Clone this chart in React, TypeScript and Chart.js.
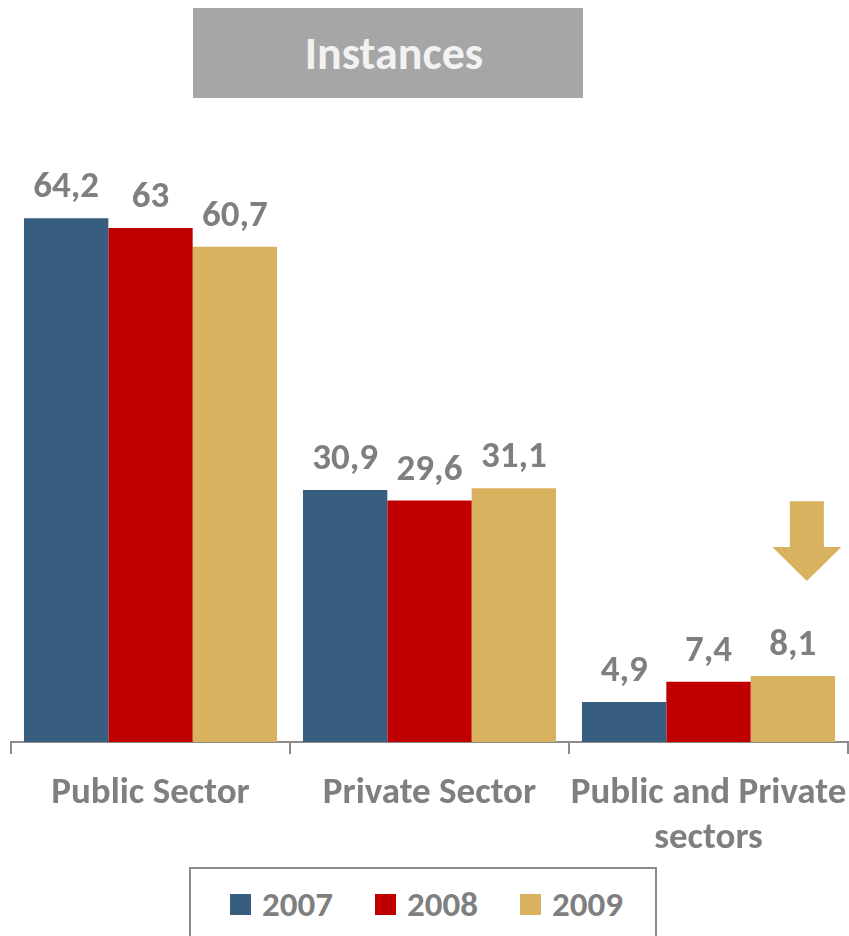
import React, { useEffect, useRef } from "react";
import { Chart, registerables } from "chart.js";

Chart.register(...registerables);

// ---- data ----
const categories: (string | string[])[] = [
  "Public Sector",
  "Private Sector",
  ["Public and Private", "sectors"],
];
const years = ["2007", "2008", "2009"];
const values2007 = [64.2, 30.9, 4.9];
const values2008 = [63, 29.6, 7.4];
const values2009 = [60.7, 31.1, 8.1];
const seriesColors = ["#375E7F", "#C00000", "#D9B25F"];
const titleText = "Instances";
const yMin = 0;
const yMax = 70;
// arrow annotation (value range on the y axis, above the 2009 bar of the last category)
const arrowTopValue = 29.5;
const arrowNeckValue = 23.9;
const arrowTipValue = 19.75;

const FONT = "Carlito, Lato, sans-serif";
const GRAY = "#7F7F7F";
const AXIS = "#8C8C8C";

const fmt = (v: number) => String(v).replace(".", ",");

const valueLabels = {
  id: "valueLabels",
  afterDatasetsDraw(chart: any) {
    const ctx = chart.ctx;
    ctx.save();
    ctx.font = `bold 37px ${FONT}`;
    ctx.fillStyle = GRAY;
    ctx.textAlign = "center";
    ctx.textBaseline = "alphabetic";
    chart.data.datasets.forEach((ds: any, di: number) => {
      const meta = chart.getDatasetMeta(di);
      meta.data.forEach((bar: any, i: number) => {
        ctx.fillText(fmt(ds.data[i]), bar.x, bar.y - 21);
      });
    });
    ctx.restore();
  },
};

const arrowPlugin = {
  id: "arrowPlugin",
  afterDatasetsDraw(chart: any) {
    const meta = chart.getDatasetMeta(2);
    const bar = meta.data[2];
    if (!bar) return;
    const y = chart.scales.y;
    const cx = bar.x + 14;
    const top = y.getPixelForValue(arrowTopValue);
    const neck = y.getPixelForValue(arrowNeckValue);
    const tip = y.getPixelForValue(arrowTipValue);
    const shaft = 17;
    const head = 34.5;
    const ctx = chart.ctx;
    ctx.save();
    ctx.fillStyle = seriesColors[2];
    ctx.beginPath();
    ctx.moveTo(cx - shaft, top);
    ctx.lineTo(cx + shaft, top);
    ctx.lineTo(cx + shaft, neck);
    ctx.lineTo(cx + head, neck);
    ctx.lineTo(cx, tip);
    ctx.lineTo(cx - head, neck);
    ctx.lineTo(cx - shaft, neck);
    ctx.closePath();
    ctx.fill();
    ctx.restore();
  },
};

export default function App() {
  const canvasRef = useRef<HTMLCanvasElement | null>(null);

  useEffect(() => {
    if (!canvasRef.current) return;
    const seriesValues = [values2007, values2008, values2009];
    const chart = new Chart(canvasRef.current, {
      type: "bar",
      data: {
        labels: categories,
        datasets: years.map((yr, i) => ({
          label: yr,
          data: seriesValues[i],
          backgroundColor: seriesColors[i],
          borderWidth: 0,
          categoryPercentage: 0.907,
          barPercentage: 1,
        })),
      },
      options: {
        responsive: false,
        animation: false,
        devicePixelRatio: 1,
        layout: { padding: { top: 171, left: 11, right: 1, bottom: 0 } },
        plugins: {
          legend: { display: false },
          title: { display: false },
          tooltip: { enabled: false },
        },
        scales: {
          x: {
            afterFit: (scale: any) => {
              scale.height = 936 - 742;
              scale.paddingLeft = 0;
              scale.paddingRight = 0;
            },
            grid: {
              display: true,
              drawOnChartArea: false,
              drawTicks: true,
              tickLength: 12,
              offset: true,
              color: AXIS,
              lineWidth: 2,
            },
            border: { display: true, color: AXIS, width: 2 },
            ticks: {
              color: GRAY,
              padding: 17,
              autoSkip: false,
              maxRotation: 0,
              minRotation: 0,
              font: { family: FONT, size: 37, weight: "bold", lineHeight: 1.22 },
            },
          },
          y: {
            display: false,
            min: yMin,
            max: yMax,
          },
        },
      },
      plugins: [valueLabels, arrowPlugin],
    } as any);
    return () => chart.destroy();
  }, []);

  return (
    <div style={{ position: "absolute", left: 0, top: 0, width: 849, height: 936, overflow: "hidden", background: "#fff" }}>
      <canvas ref={canvasRef} width={849} height={936} style={{ position: "absolute", left: 0, top: 0 }} />
      <div
        style={{
          position: "absolute",
          left: 193,
          top: 8,
          width: 390,
          height: 90,
          boxSizing: "border-box",
          paddingLeft: 12,
          background: "#A6A6A6",
          color: "#F2F2F2",
          fontFamily: FONT,
          fontWeight: "bold",
          fontSize: 46,
          lineHeight: "90px",
          textAlign: "center",
        }}
      >
        {titleText}
      </div>
      <div
        style={{
          position: "absolute",
          left: 189,
          top: 867,
          width: 468,
          height: 100,
          boxSizing: "border-box",
          border: `2px solid ${AXIS}`,
          background: "#fff",
          display: "flex",
          alignItems: "flex-start",
          paddingTop: 14,
          paddingLeft: 39,
          fontFamily: FONT,
          fontWeight: "bold",
          fontSize: 35,
          lineHeight: "42px",
          color: GRAY,
        }}
      >
        {years.map((yr, i) => (
          <div key={yr} style={{ display: "flex", alignItems: "center", marginRight: 42 }}>
            <span style={{ display: "inline-block", width: 21, height: 21, background: seriesColors[i], marginRight: 11 }} />
            <span>{yr}</span>
          </div>
        ))}
      </div>
    </div>
  );
}
